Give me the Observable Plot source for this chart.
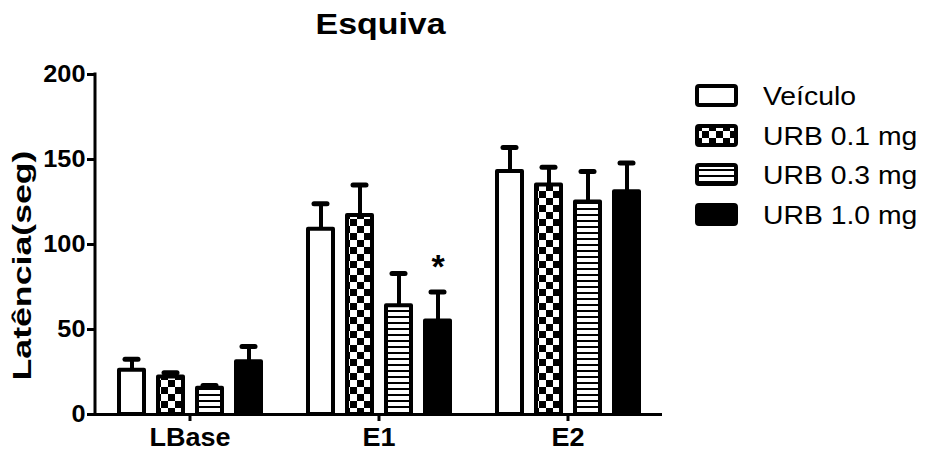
<!DOCTYPE html>
<html>
<head>
<meta charset="utf-8">
<script src="https://cdn.jsdelivr.net/npm/d3@7"></script>
<script src="https://cdn.jsdelivr.net/npm/@observablehq/plot@0.6"></script>
<style>
  body { margin: 0; background: #fff; font-family: "Liberation Sans", Arial, sans-serif; }
  #wrap { position: relative; width: 928px; height: 452px; overflow: hidden; }
  #title { height: 58px; width: 762px; text-align: center; }
  #title span { display: inline-block; font-size: 30px; font-weight: bold; line-height: 30px; margin-top: 9px; transform: scaleX(1.13); }
  #legend { position: absolute; left: 695px; top: 77px; }
  .row { display: flex; align-items: center; height: 39.5px; }
  .row svg { display: block; margin-right: 23px; }
  .row span { display: inline-block; font-size: 26px; transform: scaleX(1.09); transform-origin: left center; white-space: nowrap; }
  [aria-label="y-axis tick label"], [aria-label="y-axis tick label"] text { font-size: 23px; font-weight: bold; }
  [aria-label="fx-axis tick label"], [aria-label="fx-axis tick label"] text { font-size: 25px; font-weight: bold; }
  [aria-label="y-axis label"], [aria-label="y-axis label"] text { font-size: 26px; font-weight: bold; }
  [aria-label="y-axis tick"], [aria-label="y-axis tick"] path, [aria-label="fx-axis tick"], [aria-label="fx-axis tick"] path { stroke-width: 3px; }
</style>
</head>
<body>
<div id="wrap">
  <div id="title"><span>Esquiva</span></div>
  <div id="chart"></div>
  <div id="legend"></div>
</div>
<svg width="0" height="0" style="position:absolute">
  <defs>
    <pattern id="pat-checker" patternUnits="userSpaceOnUse" width="14" height="14">
      <rect width="14" height="14" fill="white"/>
      <rect width="7" height="7" fill="black"/>
      <rect x="7" y="7" width="7" height="7" fill="black"/>
    </pattern>
    <pattern id="pat-stripes" patternUnits="userSpaceOnUse" width="6" height="6">
      <rect width="6" height="6" fill="white"/>
      <rect width="6" height="2" fill="black"/>
    </pattern>
  </defs>
</svg>
<script>
// ---- data ----
const groups = ["LBase", "E1", "E2"];
const series = ["Veículo", "URB 0.1 mg", "URB 0.3 mg", "URB 1.0 mg"];
const veiculoMean = [26, 109, 143];
const veiculoErr  = [6.5, 15, 14];
const urb01Mean   = [22, 117, 135];
const urb01Err    = [2.5, 18, 10.5];
const urb03Mean   = [15.5, 64, 125];
const urb03Err    = [1.5, 19, 18];
const urb10Mean   = [31, 55, 131];
const urb10Err    = [9, 17, 17];
const yTicks = [0, 50, 100, 150, 200];
const stars = [{group: "E1", series: "URB 1.0 mg", label: "*"}];
const titleText = "Esquiva";
const yLabel = "Latência(seg)";

// styles
const fills = ["white", "url(#pat-checker)", "url(#pat-stripes)", "black"];

const means = [veiculoMean, urb01Mean, urb03Mean, urb10Mean];
const errs = [veiculoErr, urb01Err, urb03Err, urb10Err];
const rows = [];
series.forEach((s, si) => groups.forEach((g, gi) => rows.push({group: g, series: s, mean: means[si][gi], err: errs[si][gi]})));
const upper = d => d.mean + d.err;
const starRows = stars.map(s => ({...s, y: upper(rows.find(r => r.group === s.group && r.series === s.series))}));

const plot = Plot.plot({
  width: 928, height: 394,
  marginLeft: 95, marginRight: 266, marginTop: 16, marginBottom: 38,
  style: {fontFamily: "'Liberation Sans', Arial, sans-serif", background: "transparent", color: "black"},
  fx: {domain: groups, padding: 0, label: null},
  x: {domain: series, paddingInner: 0.364, paddingOuter: 0.587, axis: null},
  y: {domain: [0, 200], label: null},
  color: {domain: series, range: fills},
  marks: [
    Plot.ruleX(rows, {fx: "group", x: "series", y1: "mean", y2: upper, stroke: "black", strokeWidth: 4}),
    Plot.tickY(rows, {fx: "group", x: "series", y: upper, stroke: "black", strokeWidth: 5, strokeLinecap: "round", insetLeft: 6, insetRight: 6}),
    Plot.barY(rows, {fx: "group", x: "series", y: "mean", fill: "series", stroke: "black", strokeWidth: 4, strokeLinejoin: "round"}),
    Plot.text(starRows, {fx: "group", x: "series", y: "y", text: "label", fontSize: 34, fontWeight: "bold", dy: -25}),
    Plot.ruleY([0], {stroke: "black", strokeWidth: 3}),
    Plot.axisY({ticks: yTicks, tickSize: 8, tickPadding: 2, tickFormat: d => String(d), label: yLabel, labelAnchor: "center", labelOffset: 83, labelArrow: "none"}),
    Plot.axisFx({anchor: "bottom", tickSize: 7, tickPadding: 7, label: null})
  ]
});
document.getElementById("chart").appendChild(plot);
document.querySelector("#title span").textContent = titleText;

// y axis line
const ys = plot.scale("y");
d3.select(plot).append("line")
  .attr("x1", 95).attr("x2", 95)
  .attr("y1", ys.apply(200) - 1.5).attr("y2", ys.apply(0) + 1.5)
  .attr("stroke", "black").attr("stroke-width", 3);

// horizontal stretch of texts to mimic reference rendering
function stretch(sel, k) {
  d3.select(plot).selectAll(sel).each(function() {
    const L = this.getComputedTextLength();
    if (L > 0) { this.setAttribute("textLength", L * k); this.setAttribute("lengthAdjust", "spacingAndGlyphs"); }
  });
}
stretch('[aria-label="y-axis tick label"] text', 1.1);
stretch('[aria-label="fx-axis tick label"] text', 1.08);
d3.select(plot).selectAll('[aria-label="y-axis label"] text').each(function() {
  this.setAttribute("textLength", 230); this.setAttribute("lengthAdjust", "spacingAndGlyphs");
  this.setAttribute("dx", -21);
});

// legend
const legend = d3.select("#legend");
series.forEach((s, i) => {
  const row = legend.append("div").attr("class", "row");
  const sw = row.append("svg").attr("width", 45).attr("height", 25);
  sw.append("rect").attr("x", 2).attr("y", 2).attr("width", 39).attr("height", 19).attr("rx", 2)
    .attr("fill", fills[i]).attr("stroke", "black").attr("stroke-width", 4);
  row.append("span").text(s);
});
</script>
</body>
</html>
